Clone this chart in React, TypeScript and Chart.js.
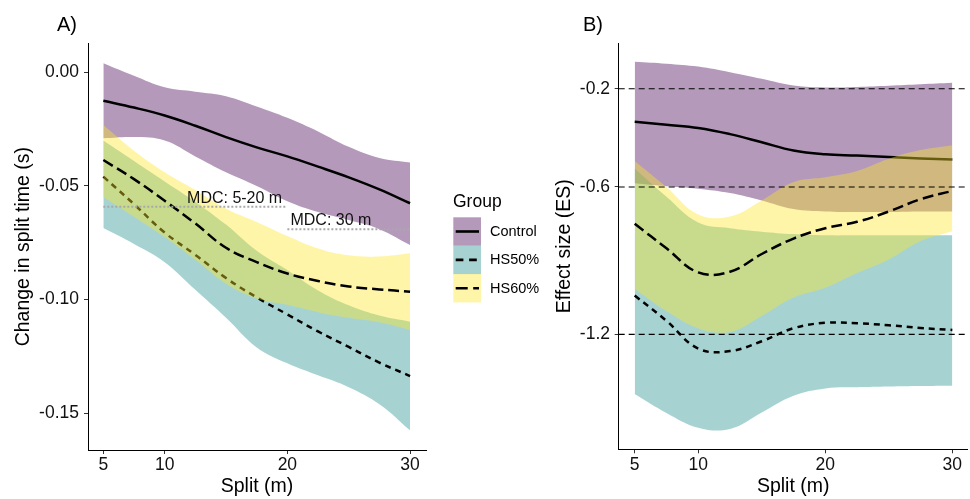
import React, { useEffect, useRef } from "react";
import { Chart, registerables } from "chart.js";

Chart.register(...registerables);

const FONT = '"Liberation Sans", Arial, Helvetica, sans-serif';

// ---------- data ----------
const splits = [5, 7.5, 10, 12.5, 15, 17.5, 20, 22.5, 25, 27.5, 30];
const groups = ["Control", "HS50%", "HS60%"];

// Panel A: change in split time (s)
const aControlMean = [-0.0125, -0.0155, -0.019, -0.0235, -0.0285, -0.033, -0.037, -0.0415, -0.0462, -0.0515, -0.0576];
const aControlHigh = [0.004, -0.0015, -0.0066, -0.0085, -0.0105, -0.015, -0.02, -0.026, -0.0328, -0.0377, -0.0397];
const aControlLow = [-0.029, -0.0285, -0.03, -0.037, -0.044, -0.05, -0.0567, -0.0615, -0.065, -0.069, -0.076];
const aHS50Mean = [-0.0459, -0.058, -0.0705, -0.0803, -0.0905, -0.099, -0.1065, -0.114, -0.1208, -0.1277, -0.1336];
const aHS50High = [-0.03, -0.039, -0.048, -0.057, -0.067, -0.0785, -0.087, -0.096, -0.1025, -0.107, -0.1097];
const aHS50Low = [-0.0685, -0.0755, -0.0835, -0.0957, -0.108, -0.121, -0.128, -0.1333, -0.1385, -0.146, -0.1575];
const aHS60Mean = [-0.0386, -0.047, -0.0565, -0.0665, -0.0772, -0.0835, -0.0885, -0.0918, -0.0942, -0.0955, -0.0965];
const aHS60High = [-0.0232, -0.0345, -0.044, -0.0518, -0.06, -0.0658, -0.072, -0.0775, -0.0805, -0.081, -0.0796];
const aHS60Low = [-0.0548, -0.0635, -0.0725, -0.0825, -0.093, -0.0995, -0.1023, -0.1055, -0.108, -0.11, -0.1133];

// Panel B: effect size (ES)
const bControlMean = [-0.335, -0.347, -0.36, -0.385, -0.418, -0.452, -0.467, -0.472, -0.478, -0.484, -0.488];
const bControlHigh = [-0.09, -0.098, -0.11, -0.133, -0.16, -0.187, -0.195, -0.193, -0.188, -0.182, -0.176];
const bControlLow = [-0.585, -0.597, -0.607, -0.625, -0.655, -0.69, -0.7, -0.702, -0.702, -0.7, -0.7];
const bHS50Mean = [-1.042, -1.145, -1.258, -1.268, -1.228, -1.175, -1.153, -1.155, -1.163, -1.174, -1.182];
const bHS50High = [-0.525, -0.64, -0.745, -0.768, -0.782, -0.792, -0.797, -0.797, -0.797, -0.797, -0.797];
const bHS50Low = [-1.443, -1.52, -1.58, -1.585, -1.518, -1.45, -1.42, -1.415, -1.412, -1.41, -1.409];
const bHS60Mean = [-0.75, -0.85, -0.948, -0.945, -0.873, -0.81, -0.768, -0.742, -0.7, -0.65, -0.616];
const bHS60High = [-0.494, -0.6, -0.712, -0.72, -0.655, -0.58, -0.56, -0.535, -0.485, -0.45, -0.43];
const bHS60Low = [-1.015, -1.105, -1.175, -1.19, -1.125, -1.05, -1.01, -0.95, -0.895, -0.82, -0.78];

// ticks
const xTicks = [5, 10, 20, 30];
const aYTicks = [0, -0.05, -0.1, -0.15];
const bYTicks = [-0.2, -0.6, -1.2];

// reference levels
const bRefLevels = [-0.2, -0.6, -1.2];
const mdcLabels = ["MDC: 5-20 m", "MDC: 30 m"];
const mdcLevels = [-0.0591, -0.069];
const mdcFrom = [5, 20];
const mdcTo = [20, 30];

// ---------- layout / style ----------
const MDC_TEXT_X = [15.7, 23.55];
const MDC_TEXT_Y = [-0.0576, -0.0672];
const groupFills = ["rgba(68,1,84,0.4)", "rgba(33,144,140,0.4)", "rgba(253,231,37,0.4)"];
const groupDash: number[][] = [[], [6, 5], [11, 5]];
const keyDash: number[][] = [[], [7.7, 5.7], [12, 5.5]];
const TENSION = 0.4;

function pts(ys: number[]) {
  return splits.map((x, i) => ({ x, y: ys[i] }));
}

function ribbonSets(low: number[], high: number[], mean: number[], gi: number, base: number) {
  return [
    {
      data: pts(low), borderColor: "rgba(0,0,0,0)", borderWidth: 0, pointRadius: 0,
      fill: false, tension: TENSION, order: base,
    },
    {
      data: pts(high), borderColor: "rgba(0,0,0,0)", borderWidth: 0, pointRadius: 0,
      fill: "-1", backgroundColor: groupFills[gi], tension: TENSION, order: base - 1,
    },
    {
      data: pts(mean), borderColor: "#000", borderWidth: 2.5, borderDash: groupDash[gi],
      borderCapStyle: "butt", pointRadius: 0, fill: false, tension: TENSION, order: base - 2,
    },
  ];
}

function hline(v: number, x0: number, x1: number, color: string, width: number, dash: number[], order: number) {
  return {
    data: [{ x: x0, y: v }, { x: x1, y: v }], borderColor: color, borderWidth: width,
    borderDash: dash, borderCapStyle: "butt", pointRadius: 0, fill: false, tension: 0, order,
  };
}

function panelLabel(id: string, text: string, x: number) {
  return {
    id,
    afterDraw(chart: any) {
      const ctx = chart.ctx;
      ctx.save();
      ctx.fillStyle = "#000";
      ctx.font = `20px ${FONT}`;
      ctx.textAlign = "left";
      ctx.textBaseline = "alphabetic";
      ctx.fillText(text, x, 30.5);
      ctx.restore();
    },
  };
}

const mdcTextPlugin = {
  id: "mdcText",
  afterDatasetsDraw(chart: any) {
    const { ctx, scales } = chart;
    ctx.save();
    ctx.fillStyle = "#111";
    ctx.font = `16px ${FONT}`;
    ctx.textAlign = "center";
    ctx.textBaseline = "alphabetic";
    mdcLabels.forEach((t, i) => {
      ctx.fillText(t, scales.x.getPixelForValue(MDC_TEXT_X[i]), scales.y.getPixelForValue(MDC_TEXT_Y[i]));
    });
    ctx.restore();
  },
};

const legendPlugin = {
  id: "groupLegend",
  afterDraw(chart: any) {
    const ctx = chart.ctx;
    ctx.save();
    ctx.fillStyle = "#000";
    ctx.font = `17.5px ${FONT}`;
    ctx.textAlign = "left";
    ctx.textBaseline = "alphabetic";
    ctx.fillText("Group", 453, 206.5);
    const tops = [217.3, 245.7, 274.0];
    groups.forEach((g, i) => {
      ctx.fillStyle = groupFills[i];
      ctx.fillRect(453.3, tops[i], 27.7, 28.4);
      const cy = tops[i] + 14.2;
      ctx.strokeStyle = "#000";
      ctx.lineWidth = 2.6;
      ctx.lineCap = "butt";
      ctx.setLineDash(keyDash[i]);
      ctx.beginPath();
      ctx.moveTo(455.7, cy);
      ctx.lineTo(479, cy);
      ctx.stroke();
      ctx.setLineDash([]);
      ctx.fillStyle = "#000";
      ctx.font = `14.5px ${FONT}`;
      ctx.textBaseline = "middle";
      ctx.fillText(g, 490, cy + 0.5);
    });
    ctx.restore();
  },
};

function makeConfig(o: any) {
  return {
    type: "line",
    data: { datasets: o.datasets },
    options: {
      animation: false,
      responsive: false,
      events: [],
      layout: { padding: { left: 0, right: o.padRight, top: 43.3, bottom: 0 } },
      plugins: { legend: { display: false }, tooltip: { enabled: false }, title: { display: false } },
      scales: {
        x: {
          type: "linear",
          min: o.xMin,
          max: o.xMax,
          afterBuildTicks: (s: any) => { s.ticks = xTicks.map((v) => ({ value: v })); },
          afterFit: (s: any) => { s.height = o.xHeight; },
          grid: { display: true, drawOnChartArea: false, drawTicks: true, tickLength: 4, color: "#333", lineWidth: 1 },
          border: { display: true, color: "#000", width: 1 },
          ticks: {
            color: "#111", font: { family: FONT, size: 17.5 }, padding: 1, autoSkip: false, maxRotation: 0,
            callback: (v: any) => String(v),
          },
          title: {
            display: true, text: "Split (m)", color: "#000",
            font: { family: FONT, size: 19.5, lineHeight: 1.2 }, padding: { top: 0, bottom: 1 },
          },
        },
        y: {
          type: "linear",
          min: o.yMin,
          max: o.yMax,
          afterBuildTicks: (s: any) => { s.ticks = o.yTicks.map((v: number) => ({ value: v })); },
          afterFit: (s: any) => { s.width = o.yWidth; },
          grid: { display: true, drawOnChartArea: false, drawTicks: true, tickLength: 4, color: "#333", lineWidth: 1 },
          border: { display: true, color: "#000", width: 1 },
          ticks: {
            color: "#111", font: { family: FONT, size: 17.5 }, padding: o.yTickPad, autoSkip: false,
            callback: (v: any) => Number(v).toFixed(o.yDecimals),
          },
          title: {
            display: true, text: o.yTitle, color: "#000",
            font: { family: FONT, size: 19.5, lineHeight: 1.2 }, padding: { top: o.yTitlePad, bottom: 0 },
          },
        },
      },
    },
    plugins: o.plugins,
  };
}

export default function App() {
  const refA = useRef<HTMLCanvasElement | null>(null);
  const refB = useRef<HTMLCanvasElement | null>(null);

  useEffect(() => {
    const aXMin = 3.75, aXMax = 31.3;
    const bXMin = 3.74, bXMax = 31.21;

    const aSets = [
      ...ribbonSets(aControlLow, aControlHigh, aControlMean, 0, 100),
      ...ribbonSets(aHS50Low, aHS50High, aHS50Mean, 1, 90),
      ...ribbonSets(aHS60Low, aHS60High, aHS60Mean, 2, 80),
      ...mdcLevels.map((v, i) => hline(v, mdcFrom[i], mdcTo[i], "#a9a9a9", 2, [2, 2], 10 - i)),
    ];
    const bSets = [
      ...ribbonSets(bControlLow, bControlHigh, bControlMean, 0, 100),
      ...ribbonSets(bHS50Low, bHS50High, bHS50Mean, 1, 90),
      ...ribbonSets(bHS60Low, bHS60High, bHS60Mean, 2, 80),
      ...bRefLevels.map((v, i) => hline(v, bXMin, bXMax, "#000", 1.1, [6, 4], 10 - i)),
    ];

    const chartA = new Chart(refA.current as HTMLCanvasElement, makeConfig({
      datasets: aSets, xMin: aXMin, xMax: aXMax, yMin: -0.16614, yMax: 0.01276,
      yTicks: aYTicks, yDecimals: 2, yTitle: "Change in split time (s)",
      yWidth: 88, yTitlePad: 12.3, yTickPad: 5, xHeight: 49, padRight: 119,
      plugins: [panelLabel("labelA", "A)", 57), mdcTextPlugin, legendPlugin],
    }) as any);

    const chartB = new Chart(refB.current as HTMLCanvasElement, makeConfig({
      datasets: bSets, xMin: bXMin, xMax: bXMax, yMin: -1.668, yMax: -0.0152,
      yTicks: bYTicks, yDecimals: 1, yTitle: "Effect size (ES)",
      yWidth: 73.7, yTitlePad: 8.3, yTickPad: 4.7, xHeight: 49.7, padRight: 2.3,
      plugins: [panelLabel("labelB", "B)", 38)],
    }) as any);

    return () => {
      chartA.destroy();
      chartB.destroy();
    };
  }, []);

  return (
    <div style={{ position: "absolute", left: 0, top: 0, width: 970, height: 499, background: "#fff", overflow: "hidden" }}>
      <canvas ref={refA} width={545} height={499} style={{ position: "absolute", left: 0, top: 0, width: 545, height: 499 }} />
      <canvas ref={refB} width={425} height={499} style={{ position: "absolute", left: 545, top: 0, width: 425, height: 499 }} />
    </div>
  );
}
